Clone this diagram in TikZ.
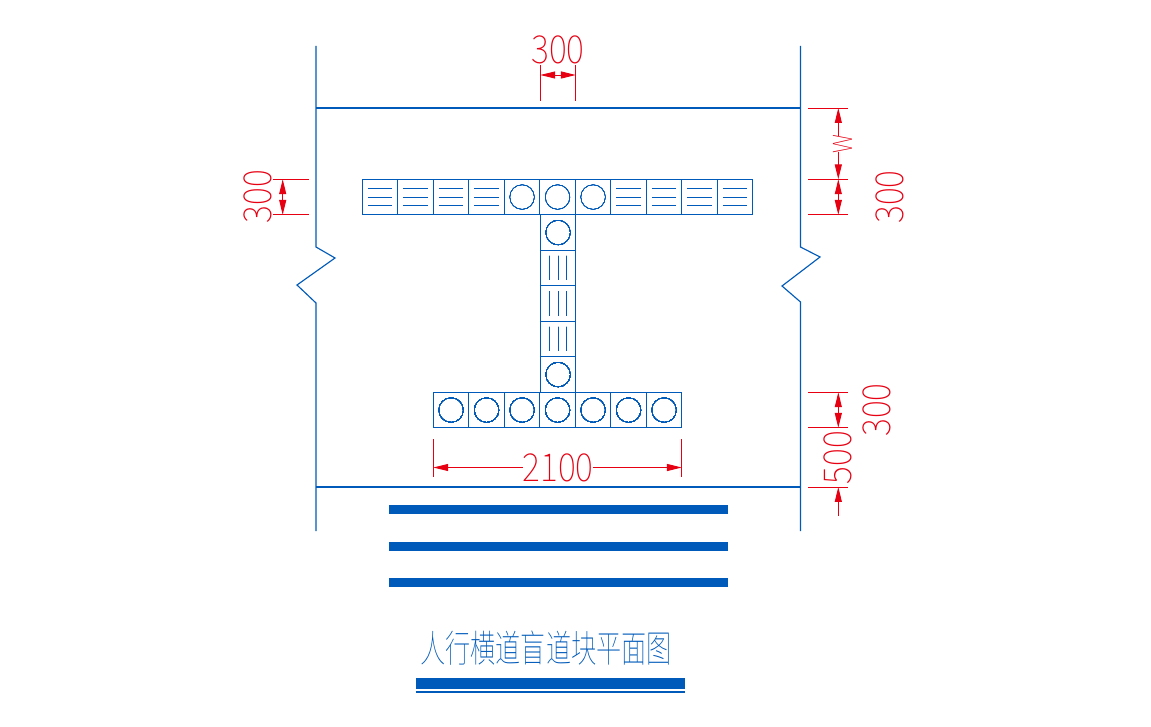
\documentclass[tikz,border=0pt]{standalone}
\usepackage{fontspec}
\usepackage{graphicx}
\newfontfamily\dimfont{Noto Sans CJK SC Thin}
\newfontfamily\titlefont{Noto Sans CJK SC Thin}
\usetikzlibrary{arrows.meta}
\usetikzlibrary{calc}
\definecolor{roadblue}{RGB}{0,90,185}
\definecolor{dimred}{RGB}{230,0,18}
\tikzset{
  road/.style={draw=roadblue,line width=0.65pt},
  tile/.style={draw=roadblue,line width=0.65pt},
  hatch/.style={draw=roadblue,line width=0.45pt},
  dot/.style={draw=roadblue,line width=0.22pt},
  bar/.style={fill=roadblue,draw=none},
  dimline/.style={draw=dimred,line width=0.55pt},
  dimtip/.tip={Triangle[length=8.5pt,width=4pt]},
  dimarrow/.style={dimline,dimtip-dimtip},
  dimtext/.style={text=dimred,inner sep=0pt},
}
\newcommand{\dimnum}[1]{\scalebox{0.88}[1]{\dimfont\fontsize{22}{22}\selectfont #1}}
% one tile of the pavement: #1,#2 is the left top corner
\newcommand{\tilebox}[2]{\draw[tile] (#1,#2) rectangle ++(35.5,35.5);}
\newcommand{\tiledot}[2]{\tilebox{#1}{#2}\draw[dot] ($(#1,#2)+(17.75,17.75)$) circle (12.3);}
\newcommand{\tilebars}[2]{\tilebox{#1}{#2}
  \foreach \k in {-8.7,0,8.7}
    \draw[hatch] ($(#1,#2)+(5.45,17.75+\k)$) -- ++(24.6,0);}
\newcommand{\tilerails}[2]{\tilebox{#1}{#2}
  \foreach \k in {-8.7,0,8.7}
    \draw[hatch] ($(#1,#2)+(17.75+\k,5.45)$) -- ++(0,24.6);}
\begin{document}
\begin{tikzpicture}[x=0.02cm,y=-0.02cm]
\useasboundingbox (0,0) rectangle (1151,726);
% road
\draw[road] (316,46) -- (316,247) -- (335,258) -- (297,285) -- (316,303) -- (316,531);
\draw[road] (800.5,46) -- (800.5,247) -- (820,257) -- (782,286) -- (800.5,302) -- (800.5,531);
\draw[road] (316,108) -- (800.5,108);
\draw[road] (316,487) -- (800.5,487);
% tiles
\foreach \i in {0,1,2,3,7,8,9,10} \tilebars{362.3+35.5*\i}{179.3}
\foreach \i in {4,5,6} \tiledot{362.3+35.5*\i}{179.3}
\tiledot{540.3}{214.8}
\foreach \i in {0,1,2} \tilerails{540.3}{250.3+35.5*\i}
\tiledot{540.3}{356.8}
\foreach \i in {0,...,6} \tiledot{433.3+35.5*\i}{392.3}
% crossing
\foreach \y in {505,541.5,577.5} \fill[bar] (388.5,\y) rectangle ++(339.5,9.2);
% dimensions
\draw[dimline] (540.3,65) -- (540.3,100.7);
\draw[dimline] (575.8,65) -- (575.8,100.7);
\draw[dimarrow] (540.3,75) -- (575.8,75);
\node[dimtext] (topdim) at (558,49.5) {\dimnum{300}};
\draw[dimline] (273,179.3) -- (308.7,179.3);
\draw[dimline] (273,214.8) -- (308.7,214.8);
\draw[dimarrow] (282.7,179.3) -- (282.7,214.8);
\node[dimtext,rotate=90] (leftdim) at (257.5,196.7) {\dimnum{300}};
\foreach \y in {108,179.3,214.8,392.3,427.8,487} \draw[dimline] (808,\y) -- (847.7,\y);
\draw[dimline,dimtip-] (838.3,108) -- (838.3,136);
\draw[dimline,-dimtip] (838.3,151.7) -- (838.3,179.3);
\draw[dimarrow] (838.3,179.3) -- (838.3,214.8);
\draw[dimarrow] (838.3,392.3) -- (838.3,427.8);
\draw[dimline,dimtip-] (838.3,487) -- (838.3,515.7);
\node[dimtext,rotate=90] (wdim) at (843,143.8) {\scalebox{0.85}[1]{\dimfont\fontsize{15}{15}\selectfont W}};
\node[dimtext,rotate=90] (rightdim) at (890,197) {\dimnum{300}};
\node[dimtext,rotate=90] (lowdim) at (876.7,410) {\dimnum{300}};
\node[dimtext,rotate=90] (curbdim) at (838,457.5) {\dimnum{500}};
\draw[dimline] (433.3,439) -- (433.3,477);
\draw[dimline] (681.8,439) -- (681.8,477);
\draw[dimline,dimtip-] (433.3,467.5) -- (523,467.5);
\draw[dimline,-dimtip] (593,467.5) -- (681.8,467.5);
\node[dimtext] (widthdim) at (558,468) {\dimnum{2100}};
% title
\node[inner sep=0pt,text=roadblue] (title) at (546,648) {\scalebox{1}[1.5]{\titlefont\fontsize{14.3}{14.3}\selectfont 人行横道盲道块平面图}};
\fill[bar] (415.7,678.3) rectangle (685,688.7);
\draw[road] (415.7,692) -- (685,692);
\end{tikzpicture}
\end{document}
